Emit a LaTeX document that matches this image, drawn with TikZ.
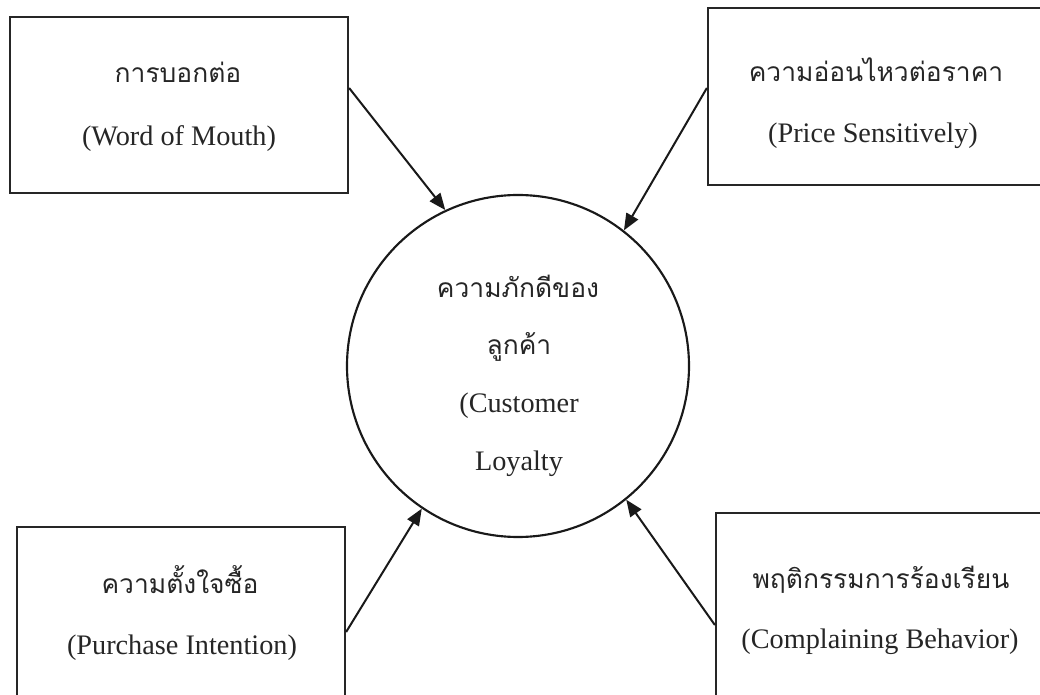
\documentclass[tikz,border=0pt]{standalone}
\usepackage{fontspec}
\setmainfont{Liberation Serif}
\newfontfamily\thaifont[Script=Thai]{Loma}
\usetikzlibrary{arrows.meta,calc}
\begin{document}
\begin{tikzpicture}[x=0.75pt,y=-0.75pt,
  box/.style={draw=black!85, line width=1.7pt, rectangle, inner sep=0pt},
  hub/.style={draw=black!90, line width=1.6pt, circle, inner sep=0pt, minimum size=256.5pt},
  th/.style={anchor=base, inner sep=0pt, font=\thaifont\fontsize{19.8}{23}\selectfont, text=black!85},
  en/.style={anchor=base, inner sep=0pt, font=\fontsize{21.2}{25}\selectfont, text=black!85},
  link/.style={draw=black!90, line width=1.5pt, -{Triangle[length=12.5pt,width=10pt]}}]
\useasboundingbox (0,0) rectangle (1040,695);
\clip (0,0) rectangle (1040,695);
\fill[white] (0,0) rectangle (1040,695);

\node[box, minimum width=253.5pt, minimum height=132pt] (tl) at (179,105) {};
\node[box, minimum width=252.75pt, minimum height=132.75pt] (tr) at (876.5,96.5) {};
\node[box, minimum width=246pt, minimum height=133.5pt] (bl) at (181,616) {};
\node[box, minimum width=250.5pt, minimum height=144pt] (br) at (883,609) {};
\node[hub] (c) at (518,366) {};

\node[th] (tlth) at (178,83) {การบอกต่อ};
\node[en] (tlen) at (179,146) {(Word of Mouth)};
\node[th] (trth) at (876,82) {ความอ่อนไหวต่อราคา};
\node[en] (tren) at (873,143) {(Price Sensitively)};
\node[th] (blth) at (180,593) {ความตั้งใจซื้อ};
\node[en] (blen) at (182,654) {(Purchase Intention)};
\node[th] (brth) at (881,588) {พฤติกรรมการร้องเรียน};
\node[en] (bren) at (880,648) {(Complaining Behavior)};
\node[th] (cth1) at (518,298) {ความภักดีของ};
\node[th] (cth2) at (519,355) {ลูกค้า};
\node[en] (cen1) at (519,413) {(Customer};
\node[en] (cen2) at (519,471) {Loyalty};

\draw[link] ($(tl.east)+(0,-17)$) -- (c.115.5);
\draw[link] ($(tr.west)+(0,-8.5)$) -- (c.52.3);
\draw[link] ($(bl.east)+(0,16)$) -- (c.236.8);
\draw[link] ($(br.west)+(0,16)$) -- (c.309.8);
\end{tikzpicture}
\end{document}
